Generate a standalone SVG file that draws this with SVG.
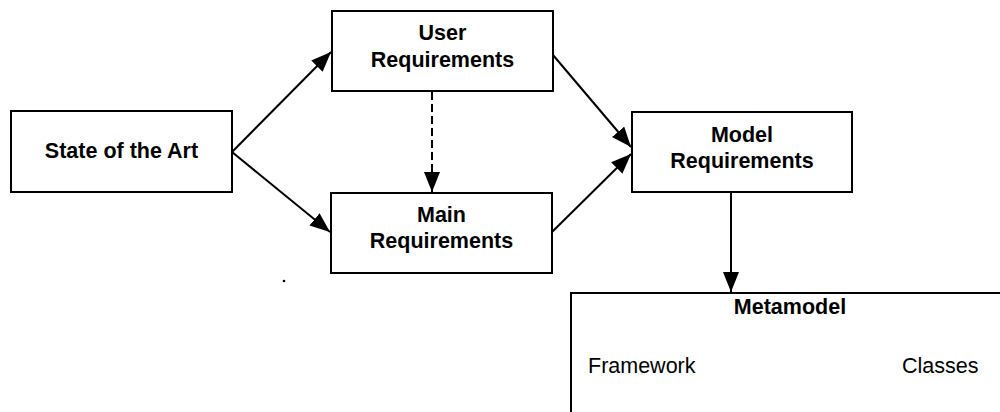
<svg xmlns="http://www.w3.org/2000/svg" width="1000" height="412" viewBox="0 0 1000 412">
<style>
.box{fill:#fff;stroke:#000;stroke-width:2}
.t{font-family:"Liberation Sans",Arial,sans-serif;font-size:21.5px;font-weight:bold;fill:#000;text-anchor:middle}
.r{font-family:"Liberation Sans",Arial,sans-serif;font-size:21.5px;fill:#000}
.c{fill:none;stroke:#000;stroke-width:2}
.d{stroke-dasharray:8 4}
</style>
<defs>
<marker id="ah" markerUnits="userSpaceOnUse" markerWidth="21" markerHeight="16" refX="20" refY="8" orient="auto">
<path d="M0,0 L20,8 L0,16 Z" fill="#000"/>
</marker>
</defs>
<rect width="1000" height="412" fill="#fff"/>
<g id="connectors">
<line class="c" x1="232" y1="152" x2="331" y2="52" marker-end="url(#ah)"/>
<line class="c" x1="232" y1="152" x2="330" y2="232" marker-end="url(#ah)"/>
<line class="c d" x1="432" y1="92" x2="432" y2="192" marker-end="url(#ah)"/>
<line class="c" x1="553" y1="55" x2="631" y2="147" marker-end="url(#ah)"/>
<line class="c" x1="552" y1="232" x2="631" y2="154" marker-end="url(#ah)"/>
<line class="c" x1="731" y1="192" x2="731" y2="292" marker-end="url(#ah)"/>
</g>
<g id="state">
<rect class="box" x="11" y="111" width="221" height="81"/>
<text class="t" x="121.5" y="158">State of the Art</text>
</g>
<g id="user">
<rect class="box" x="332" y="11" width="221" height="80"/>
<text class="t" x="442.5" y="40">User</text>
<text class="t" x="442.5" y="67">Requirements</text>
</g>
<g id="main">
<rect class="box" x="331" y="193" width="221" height="80"/>
<text class="t" x="441.5" y="222">Main</text>
<text class="t" x="441.5" y="248">Requirements</text>
</g>
<g id="model">
<rect class="box" x="632" y="112" width="220" height="80"/>
<text class="t" x="742" y="142">Model</text>
<text class="t" x="742" y="168">Requirements</text>
</g>
<g id="metamodel">
<path class="c" d="M571,412 V293 H1000"/>
<text class="t" x="790" y="314">Metamodel</text>
<text class="r" x="588" y="373">Framework</text>
<text class="r" x="902" y="373">Classes</text>
</g>
<circle cx="284" cy="281" r="1.3" fill="#000"/>
</svg>
